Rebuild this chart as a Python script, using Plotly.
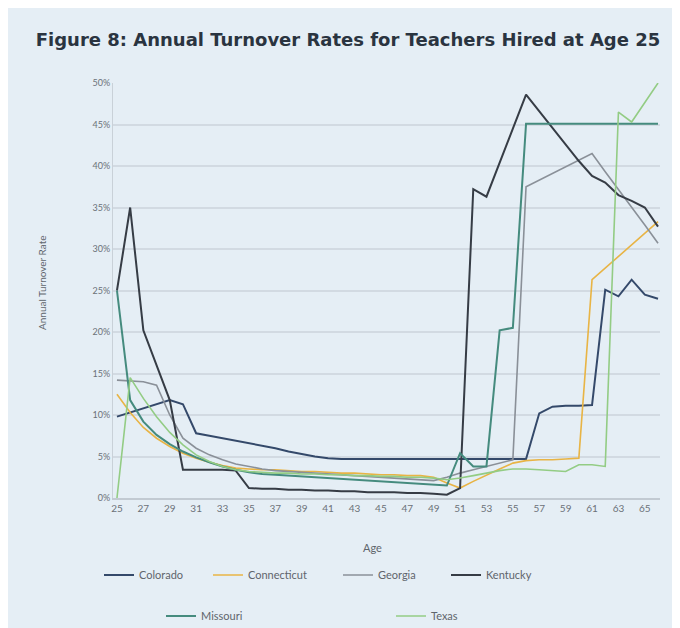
import plotly.graph_objects as go

ages = list(range(25, 67))

colorado = [9.8, 10.3, 10.8, 11.3, 11.8, 11.3, 7.8, 7.5, 7.2, 6.9, 6.6, 6.3, 6.0, 5.6, 5.3, 5.0,
            4.8, 4.7, 4.7, 4.7, 4.7, 4.7, 4.7, 4.7, 4.7, 4.7, 4.7, 4.7, 4.7, 4.7, 4.7, 4.7,
            10.2, 11.0, 11.1, 11.1, 11.2, 25.1, 24.3, 26.3, 24.5, 24.0]
connecticut = [12.5, 10.3, 8.5, 7.2, 6.2, 5.4, 4.8, 4.3, 3.9, 3.6, 3.5, 3.4, 3.4, 3.3, 3.2, 3.2,
               3.1, 3.0, 3.0, 2.9, 2.8, 2.8, 2.7, 2.7, 2.5, 1.8, 1.2, 2.0, 2.8, 3.5, 4.2, 4.5,
               4.6, 4.6, 4.7, 4.8, 26.3, 27.7, 29.1, 30.5, 31.9, 33.3]
georgia = [14.2, 14.1, 14.0, 13.6, 10.0, 7.2, 6.0, 5.2, 4.6, 4.1, 3.8, 3.5, 3.3, 3.2, 3.1, 3.0,
           2.9, 2.8, 2.7, 2.6, 2.5, 2.4, 2.3, 2.2, 2.1, 2.5, 3.0, 3.4, 3.8, 4.2, 4.6, 37.5,
           38.3, 39.1, 39.9, 40.7, 41.5, 39.3, 37.2, 35.0, 32.9, 30.7]
kentucky = [25.0, 35.0, 20.2, 16.0, 11.8, 3.4, 3.4, 3.4, 3.4, 3.3, 1.2, 1.1, 1.1, 1.0, 1.0, 0.9,
            0.9, 0.8, 0.8, 0.7, 0.7, 0.7, 0.6, 0.6, 0.5, 0.4, 1.2, 37.2, 36.3, 40.5, 44.5, 48.6,
            46.6, 44.6, 42.6, 40.6, 38.8, 38.0, 36.5, 35.8, 35.0, 32.7]
missouri = [25.0, 11.8, 9.2, 7.6, 6.5, 5.6, 4.9, 4.3, 3.8, 3.4, 3.1, 2.9, 2.8, 2.7, 2.6, 2.5,
            2.4, 2.3, 2.2, 2.1, 2.0, 1.9, 1.8, 1.7, 1.6, 1.5, 5.4, 3.8, 3.8, 20.2, 20.5, 45.1,
            45.1, 45.1, 45.1, 45.1, 45.1, 45.1, 45.1, 45.1, 45.1, 45.1]
texas = [0.0, 14.5, 12.0, 9.8, 7.9, 6.4, 5.2, 4.4, 3.8, 3.4, 3.2, 3.1, 3.0, 3.0, 2.9, 2.9,
         2.8, 2.8, 2.7, 2.7, 2.6, 2.6, 2.5, 2.5, 2.4, 2.2, 2.4, 2.7, 3.0, 3.3, 3.5, 3.5,
         3.4, 3.3, 3.2, 4.0, 4.0, 3.8, 46.5, 45.3, 47.6, 50.0]

tick_ages = list(range(25, 66, 2))
y_ticks = [0, 5, 10, 15, 20, 25, 30, 35, 40, 45, 50]
y_tick_text = [f"{v}%" for v in y_ticks]

W, H = 680, 628
OFF = 8  # page body margin: figure pixel = page pixel - 8

# plot area in page pixels (as measured on the reference)
PL, PR, PT, PB = 113, 660, 83, 498
PW, PH = PR - PL, PB - PT


def px_to_paper_x(px):
    return (px - PL) / PW


def px_to_paper_y(py):
    return (PB - py) / PH


# name, values, colour, width, legend id, legend text start (page px), legend row y (page px)
series = [
    ("Colorado", colorado, "#34496a", 2.0, "legend7", 138, 575),
    ("Connecticut", connecticut, "#e8b445", 1.6, "legend2", 250, 575),
    ("Georgia", georgia, "#8a9098", 1.6, "legend3", 380, 575),
    ("Kentucky", kentucky, "#363c45", 2.0, "legend4", 488, 575),
    ("Missouri", missouri, "#458b7e", 2.0, "legend5", 203, 616),
    ("Texas", texas, "#93cc84", 1.6, "legend6", 433, 616),
]

fig = go.Figure()
legend_layout = {}
for name, vals, color, w, lg, tx, ty in series:
    fig.add_trace(go.Scatter(x=ages, y=vals, mode="lines", name=name,
                             line=dict(color=color, width=w), legend=lg))
    legend_layout[lg] = dict(
        x=max(px_to_paper_x(tx - 42), 0.0), xanchor="left",
        y=px_to_paper_y(ty), yanchor="middle",
        font=dict(family="Lato", size=11, color="#5f656c"),
        bgcolor="rgba(0,0,0,0)", itemwidth=30,
    )

# the Colorado legend starts at the plot's left edge
legend_layout["legend7"]["x"] = px_to_paper_x(138 - 42 + 3)

bg = "#e5eef5"
fig.update_layout(
    width=W, height=H,
    paper_bgcolor=bg, plot_bgcolor=bg,
    margin=dict(l=PL - OFF, r=W - (PR - OFF), t=PT - OFF, b=H - (PB - OFF),
                autoexpand=False),
    title=dict(text="<b>Figure 8: Annual Turnover Rates for Teachers Hired at Age 25</b>",
               x=0.5, xanchor="center", y=1 - (40 - OFF) / H, yanchor="middle",
               font=dict(family="DejaVu Sans", size=18, color="#2a3440")),
    font=dict(family="Lato", color="#6b7178"),
    xaxis=dict(range=[24.7, 66.15], tickvals=tick_ages, showgrid=False,
               showline=True, linecolor="#c2cad2", linewidth=1.5, zeroline=False,
               tickfont=dict(size=10, color="#6b7178"), ticks=""),
    yaxis=dict(range=[0, 50], tickvals=y_ticks, ticktext=y_tick_text,
               showgrid=True, gridcolor="#d2dae2", gridwidth=1.5,
               showline=True, linecolor="#c9d1d8", zeroline=False,
               tickfont=dict(size=9, color="#6b7178"), ticks=""),
    annotations=[
        dict(text="Age", xref="paper", yref="paper",
             x=px_to_paper_x(372), y=px_to_paper_y(547), showarrow=False,
             xanchor="center", yanchor="middle",
             font=dict(size=11, color="#5f656c")),
        dict(text="Annual Turnover Rate", xref="paper", yref="paper",
             x=px_to_paper_x(42), y=px_to_paper_y(283), showarrow=False,
             textangle=-90, xanchor="center", yanchor="middle",
             font=dict(size=10, color="#5f656c")),
    ],
    **legend_layout,
)

fig.write_html("out.html")
